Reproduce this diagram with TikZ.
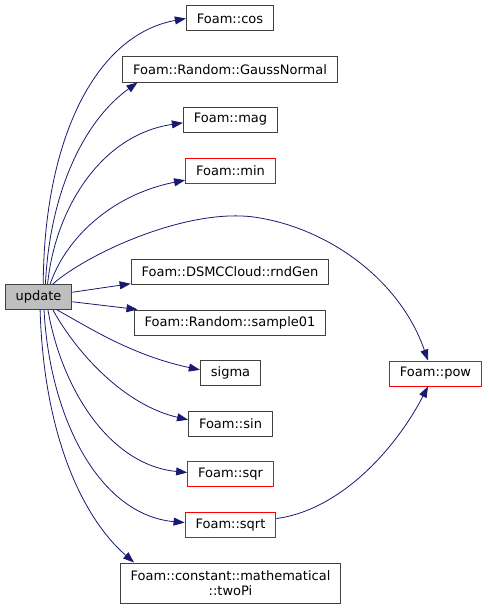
\documentclass[tikz,border=0pt]{standalone}
\usepackage{fontspec}
\setmainfont{DejaVu Sans}
\usetikzlibrary{arrows.meta}
\definecolor{edgeblue}{HTML}{191970}
\definecolor{boxgray}{HTML}{BFBFBF}
\definecolor{boxline}{HTML}{404040}

\begin{document}
\begin{tikzpicture}[x=1pt, y=-1pt, font=\fontsize{13}{15}\selectfont,
    >={Triangle[length=11pt,width=8pt]},
    fn/.style={draw=boxline, line width=1pt, minimum height=25pt, inner xsep=10.5pt, inner ysep=0pt},
    fnred/.style={fn, draw=red},
    call/.style={->, edgeblue, line width=0.8pt}]
    \useasboundingbox (0,0) rectangle (488,610);
    % caller
    \node[fn, fill=boxgray] (upd) at (38.5,297) {update};
    % callees
    \node[fn] (cos) at (230,18.5) {Foam::cos};
    \node[fn] (gauss) at (230,69.5) {Foam::Random::GaussNormal};
    \node[fn] (mag) at (230.5,119.5) {Foam::mag};
    \node[fnred] (min) at (230.5,170.5) {Foam::min};
    \node[fn] (rnd) at (230,271.5) {Foam::DSMCCloud::rndGen};
    \node[fn] (samp) at (230,322.5) {Foam::Random::sample01};
    \node[fn] (sigma) at (230.5,372.5) {sigma};
    \node[fnred] (pow) at (435.5,373.5) {Foam::pow};
    \node[fn] (sin) at (230.5,423.5) {Foam::sin};
    \node[fnred] (sqr) at (230.5,474) {Foam::sqr};
    \node[fnred] (sqrt) at (230.5,525) {Foam::sqrt};
    \node[fn, minimum height=40pt, align=center] (twopi) at (230.5,583) {Foam::constant::mathematical\\::twoPi};
    % calls
    \draw[call] (upd.70) .. controls (44,140) and (95,35) .. (cos.west);
    \draw[call] (upd.62) .. controls (50,190) and (85,120) .. (gauss.188);
    \draw[call] (upd.55) .. controls (55,210) and (100,135) .. (mag.184);
    \draw[call] (upd.48) .. controls (65,240) and (110,195) .. (min.192);
    \draw[call] (upd.42) .. controls (85,255) and (190,205) .. (260,218)
        .. controls (330,230) and (400,280) .. (pow.120);
    \draw[call] (upd.8) -- (rnd.187);
    \draw[call] (upd.-8) -- (samp.172);
    \draw[call] (upd.-35) .. controls (85,325) and (130,355) .. (sigma.175);
    \draw[call] (upd.-42) .. controls (78,355) and (125,405) .. (sin.175);
    \draw[call] (upd.-54) .. controls (62,390) and (110,465) .. (sqr.178);
    \draw[call] (upd.-67) .. controls (50,420) and (100,515) .. (sqrt.177);
    \draw[call] (upd.-83) .. controls (44,440) and (85,520) .. (twopi.168);
    \draw[call] (sqrt.8) .. controls (340,510) and (395,450) .. (pow.240);
\end{tikzpicture}
\end{document}
